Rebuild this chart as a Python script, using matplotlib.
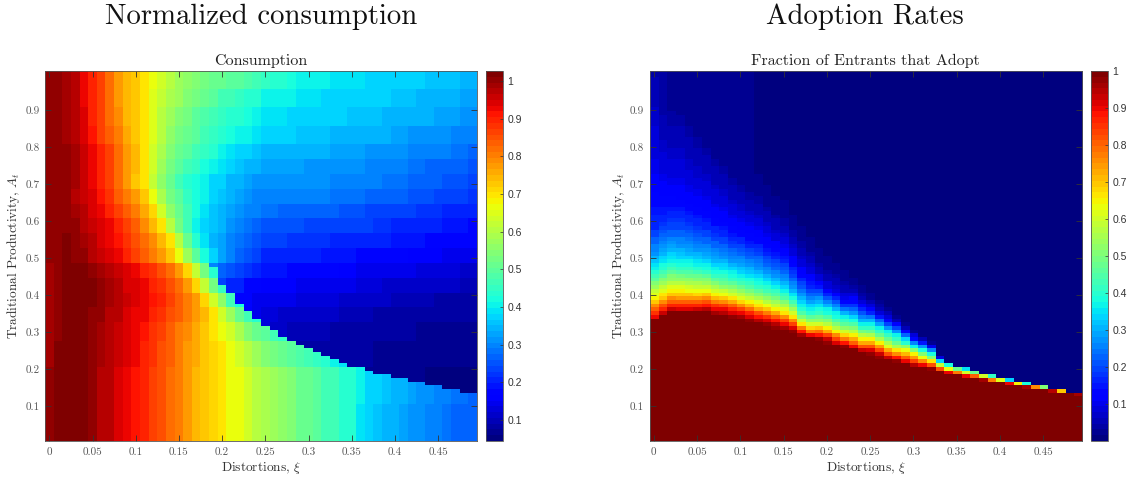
import numpy as np
import matplotlib
matplotlib.use("Agg")
import matplotlib.pyplot as plt

plt.rcParams['font.family'] = ['cmr10', 'DejaVu Serif']
plt.rcParams['mathtext.fontset'] = 'cm'
plt.rcParams['axes.formatter.use_mathtext'] = True

# rows are A = 0.01..1.00, columns are xi = 0.00..0.49, values in percent
xi_ticks = [0, 0.05, 0.1, 0.15, 0.2, 0.25, 0.3, 0.35, 0.4, 0.45]
xi_labels = ['0', '0.05', '0.1', '0.15', '0.2', '0.25', '0.3', '0.35', '0.4', '0.45']
a_ticks = [0.1, 0.2, 0.3, 0.4, 0.5, 0.6, 0.7, 0.8, 0.9]
a_labels = ['0.1', '0.2', '0.3', '0.4', '0.5', '0.6', '0.7', '0.8', '0.9']
cb1_ticks = [0.1, 0.2, 0.3, 0.4, 0.5, 0.6, 0.7, 0.8, 0.9, 1]
cb1_labels = ['0.1', '0.2', '0.3', '0.4', '0.5', '0.6', '0.7', '0.8', '0.9', '1']

# first row above the jump in consumption, per column (48 = no jump)
cons_jump = [48] * 19 + [47, 42, 40, 37, 35, 33, 31, 30, 28, 27, 26, 25, 24, 23, 22, 21, 20, 20,
                         19, 18, 18, 17, 17, 16, 16, 15, 15, 14, 14, 13, 13]

low_edges = [0, 10, 20, 27, 32, 36, 40, 44, 48]
cons_low = [
    [100,102,103,103,103,101,98,97,95,93,91,90,87,85,82,80,77,75,73,71,69,67,66,63,61,59,58,56,54,52,51,49,47,46,44,43,39,37,36,35,34,33,32,31,30,29,28,27,26,26],
    [100,102,103,103,103,101,98,97,95,93,91,90,87,85,82,80,77,75,73,71,69,67,66,63,61,59,58,56,54,52,51,49,47,46,44,43,40,38,37,36,35,34,33,32,31,30,29,28,28,27],
    [99,102,103,103,103,101,99,97,96,94,92,90,88,85,83,81,78,76,73,71,69,66,63,61,58,55,53,51,49,48,46,45,43,41,39,38],
    [99,101,102,103,103,101,99,97,96,94,92,91,88,86,83,81,79,76,73,70,67,63,59,55,52,50,47,45],
    [99,101,102,103,103,101,100,98,97,95,93,92,90,88,85,83,80,77,74,70,64,57,52,47,44],
    [99,101,103,103,103,102,101,99,97,96,95,93,91,89,87,84,81,77,71,63,56,47,42],
    [99,101,103,103,103,102,100,99,97,95,94,92,90,88,85,82,78,71,62,53,45],
    [99,101,103,103,102,101,99,98,96,94,92,90,88,85,82,78,71,62,53,44],
]

# columns 19..49 above the jump, same bands as cons_low from the second on
cons_dark = [
    [30,23,20,18,16,14,13,12,11,10,9,9,9,9,8,8,7,7,6,6,6,6,6,6,6,5,5,5,5,5,5],
    [30,23,20,18,16,14,13,12,11,10,9,9,9,9,8,8,8,8,8,7,7,7,7,7,7,6,6,6,6,6,6],
    [30,23,20,18,16,14,13,12,11,10,10,10,10,10,9,9,9,9,8,8,8,8,8,8,7,7,7,7,7,7,7],
    [30,23,20,18,16,14,13,13,12,12,12,12,11,11,11,10,10,10,10,9,9,9,9,9,9,8,8,8,8,8,8],
    [30,23,20,18,17,15,14,14,14,14,13,13,13,13,13,12,12,11,11,11,11,10,10,10,10,10,9,9,9,9,9],
    [30,23,21,20,18,17,16,16,16,16,15,15,15,15,15,14,14,13,13,13,12,12,12,12,12,11,11,11,11,10,10],
    [30,27,25,24,22,20,19,19,19,18,18,18,17,17,17,16,16,15,15,15,14,14,14,14,13,13,13,13,13,12,12],
]

high_edges = [48, 52, 56, 60, 64, 68, 72, 76, 80, 85, 90, 95, 100]
cons_high = [
    [100,101,102,101,100,98,96,94,92,90,87,84,81,77,72,67,58,50,42,37,33,29,27,25,23,21,21,21,20,20,20,20,19,19,19,19,18,18,18,17,17,17,16,16,16,16,15,15,15,15],
    [100,101,102,101,99,97,95,93,91,88,85,82,79,74,69,60,51,44,39,35,33,30,28,26,25,23,23,23,22,22,22,22,22,21,21,21,21,20,20,20,19,19,19,19,18,18,18,18,17,17],
    [100,101,101,100,98,96,94,92,89,86,83,79,75,70,61,53,47,41,38,36,34,31,30,28,27,25,25,25,25,25,24,24,24,24,24,23,23,23,22,22,21,21,21,20,20,20,19,19,19,18],
    [100,101,100,99,97,95,93,90,87,83,80,76,71,63,56,51,46,42,39,36,35,33,32,30,29,28,28,27,27,27,26,26,26,26,25,25,25,24,24,24,23,23,23,22,22,22,21,21,21,20],
    [101,101,100,98,96,94,91,88,84,80,77,72,66,59,53,49,45,42,40,37,36,35,33,32,30,30,30,30,30,29,29,29,29,28,28,28,28,27,27,27,26,26,25,25,25,24,24,23,23,22],
    [101,101,100,99,96,93,90,86,82,77,73,69,62,56,51,47,44,42,40,38,37,35,34,33,32,32,32,32,32,31,31,31,31,30,30,30,30,29,29,28,28,28,27,27,26,26,25,25,25,24],
    [101,101,100,99,96,93,90,86,82,78,74,70,64,58,53,50,47,45,42,40,39,37,36,35,34,33,33,33,33,33,32,32,32,31,31,31,31,30,30,30,29,29,28,28,27,27,27,26,26,25],
    [101,101,100,99,96,93,90,86,82,78,74,70,64,59,55,51,49,47,45,43,41,39,38,37,36,35,35,35,35,34,34,34,34,33,33,33,33,32,32,32,31,31,30,30,29,29,29,28,28,27],
    [101,100,99,97,94,91,87,83,80,76,72,69,65,60,56,53,51,49,47,45,44,42,41,40,39,37,37,37,37,36,36,36,36,35,35,35,35,34,34,34,33,33,32,32,31,31,31,30,30,29],
    [101,100,99,97,94,90,86,82,79,75,72,69,65,61,58,55,53,50,48,46,45,44,43,42,41,39,39,39,38,38,38,38,37,37,37,36,36,36,36,35,35,35,34,34,34,33,33,33,32,32],
    [101,100,99,97,93,90,86,82,78,75,72,69,65,62,59,57,55,53,51,49,47,46,45,44,43,41,41,40,40,39,39,39,38,38,38,38,37,37,37,37,36,36,36,35,35,35,34,34,33,33],
    [101,100,99,97,93,90,86,82,78,75,72,69,66,63,60,58,56,54,53,52,51,50,49,48,47,45,44,43,42,41,40,40,40,39,39,39,39,38,38,38,37,37,37,37,36,36,36,36,35,35],
]

# adoption: rows under adopt_base are 100, then the list goes upward, last entry held to the top
adopt_base = [33, 34, 35, 35, 35, 35, 35, 34, 34, 33, 33, 32, 32, 31, 30, 30, 29, 28, 28, 27, 26, 26, 25, 25, 24,
              23, 22, 22, 21, 21, 20, 20, 19, 19, 18, 18, 17, 17, 16, 16, 16, 15, 15, 14, 14, 14, 13, 13, 13, 12]
adopt_fronts = [
    [90,85,80,75,69,65,62,58,54,50,46,43,40,37,35,32,30,28,26,25,23,22,20,19,17,17,16,16,15,15,14,14,13,13,12,12,11,11,11,10,10,10,10,9,9,9,9,8,8,8,8,8,7,7,7,7,7,6,6,6,6,5,5,5,5,4,4],
    [93,87,82,76,70,66,62,58,54,50,46,43,40,38,35,33,31,29,27,25,24,22,21,19,18,17,16,15,15,14,13,13,12,12,11,11,10,10,9,9,9,8,8,8,7,7,7,6,6,6,5,5,5,5,4,4,4],
    [93,87,81,75,70,65,61,57,53,50,46,43,40,37,35,33,31,29,27,25,23,22,20,19,18,17,16,15,14,13,13,12,11,11,10,10,9,9,8,8,8,7,7,7,6,6,6,5,5,5,4,4,4,4,3],
    [92,86,80,74,69,65,61,57,53,49,45,42,39,36,34,32,30,28,26,25,23,22,20,19,18,17,16,15,14,13,12,12,11,11,10,10,9,9,8,8,8,7,7,7,6,6,6,5,5,5,4,4,4,3,3,3,3],
    [92,86,80,74,69,64,60,56,52,48,44,41,38,36,33,31,29,27,25,24,22,21,19,18,17,16,15,14,13,12,12,11,10,10,9,9,8,8,7,7,7,6,6,6,5,5,5,4,4,4,3,3,3],
    [93,87,80,74,68,64,59,55,51,47,43,40,37,35,32,30,28,26,24,23,21,20,18,17,16,15,14,13,12,11,11,10,10,9,8,8,7,7,7,6,6,5,5,5,4,4,4,3,3,3],
    [95,88,82,75,69,63,58,54,50,46,42,39,36,34,31,29,27,25,23,22,20,19,17,16,15,14,13,12,11,11,10,9,9,8,8,7,7,6,6,5,5,5,4,4,3,3,3,2],
    [96,90,85,78,71,65,60,55,50,46,42,39,36,34,31,29,27,25,23,22,20,18,17,16,14,13,12,11,11,10,9,9,8,8,7,6,6,5,5,5,4,4,3,3,3,2],
    [95,90,83,76,70,64,58,53,48,44,41,38,35,33,30,28,26,24,22,20,19,17,16,15,13,12,11,11,10,9,8,8,7,7,6,5,5,5,4,4,3,3,3,2,2],
    [97,92,87,80,72,66,60,55,50,46,42,39,36,33,31,28,26,24,22,20,18,17,15,14,13,12,11,10,9,8,8,7,6,6,5,5,4,4,3,3,3,2,2,2],
    [96,90,83,75,68,62,57,52,47,43,40,37,34,32,29,27,25,23,21,19,17,16,14,13,12,11,10,9,8,7,7,6,5,5,4,4,3,3,3,2,2,2],
    [97,92,86,79,71,65,59,54,49,45,41,38,35,32,30,27,25,23,21,19,17,15,14,13,12,11,10,9,8,7,6,6,5,4,4,3,3,3,2,2,2],
    [95,89,82,73,67,61,56,51,46,42,39,36,33,31,28,26,24,22,20,18,16,14,13,12,11,10,9,8,7,6,5,5,4,4,3,3,3,2,2,2,1],
    [97,91,85,77,70,63,57,52,47,43,40,36,33,30,28,26,23,21,19,17,15,14,12,11,10,9,8,7,6,5,5,4,3,3,3,2,2,2,1],
    [98,94,88,80,72,65,59,54,49,44,41,37,34,31,28,26,23,21,19,17,15,13,12,11,9,8,7,6,5,5,4,3,3,2,2,2,1,1],
    [96,90,83,75,67,61,55,50,45,41,37,34,31,28,25,23,21,19,17,15,13,12,10,9,8,7,6,5,4,4,3,3,2,2,2,1,1],
    [97,91,84,75,67,60,54,48,43,38,35,31,28,25,22,20,18,16,14,12,11,9,8,7,6,5,4,4,3,3,2,2,1,1],
    [96,88,78,66,58,51,45,40,36,33,30,27,24,21,19,16,14,12,11,9,8,7,6,5,4,4,3,3,2,2,1,1],
    [90,78,68,60,53,46,40,36,33,29,26,23,20,17,15,13,11,9,8,7,6,5,4,3,3,2,2,1,1],
    [97,89,79,69,60,53,47,42,38,35,31,27,23,19,15,11,9,8,6,5,4,3,3,2,2,1,1],
    [98,93,84,73,65,57,50,44,39,36,31,26,21,16,11,9,8,6,5,4,3,3,2,2,1,1],
    [92,83,75,65,57,50,44,39,36,31,26,21,16,11,9,7,6,5,4,3,2,2,1,1],
    [97,89,78,68,60,52,46,41,36,30,24,18,13,10,8,6,5,4,3,2,2,1,1],
    [90,80,72,65,57,50,44,38,33,28,23,18,14,11,8,6,4,3,2,1,1],
    [93,82,73,65,57,49,42,36,31,26,21,16,11,8,6,4,3,2,1,1],
    [98,92,82,72,65,55,47,41,36,30,24,17,11,8,5,3,2,1,0],
    [98,93,84,74,65,55,47,41,36,29,22,15,9,6,4,2,1,0],
    [93,82,72,62,55,47,41,36,27,20,13,9,6,3,1,0],
    [97,88,76,67,56,48,41,36,28,20,11,6,3,1,0],
    [90,80,71,64,52,40,33,22,11,5,2,0],
    [95,84,74,65,50,36,26,14,8,3,0],
    [90,76,63,50,38,27,15,6,1,0],
    [97,82,66,50,38,25,10,2,0],
    [82,58,33,8,0],
    [90,63,38,0],
    [78,48,0],
    [90,60,35,0],
    [80,48,0],
    [96,60,0],
    [78,42,0],
    [62,0],
    [90,33,0],
    [65,0],
    [96,38,0],
    [75,0],
    [50,0],
    [95,0],
    [70,0],
    [0],
    [96,0],
]


def find_band(edges, r):
    for i in range(len(edges) - 1):
        if edges[i] <= r < edges[i + 1]:
            return i


def build_consumption():
    mat = np.zeros((100, 50))
    for r in range(100):
        for c in range(50):
            if r >= 48:
                mat[r, c] = cons_high[find_band(high_edges, r)][c]
            elif r < cons_jump[c]:
                mat[r, c] = cons_low[find_band(low_edges, r)][c]
            else:
                mat[r, c] = cons_dark[find_band(low_edges, r) - 1][c - 19]
    return mat / 100


def build_adoption():
    mat = np.ones((100, 50))
    for c in range(50):
        front = adopt_fronts[c]
        for r in range(adopt_base[c], 100):
            i = r - adopt_base[c]
            mat[r, c] = front[min(i, len(front) - 1)] / 100
    return mat


def draw_panel(fig, rect, cb_rect, mat, clim, title, xlab, ylab, cb_ticks, cb_labels):
    ax = fig.add_axes(rect)
    im = ax.imshow(mat, origin='lower', aspect='auto', cmap=plt.get_cmap('jet', 64),
                   extent=[-0.005, 0.495, 0.005, 1.005], vmin=clim[0], vmax=clim[1],
                   interpolation='nearest')
    ax.set_xticks(xi_ticks)
    ax.set_xticklabels(xi_labels, fontsize=8, color='#555555')
    ax.set_yticks(a_ticks)
    ax.set_yticklabels(a_labels, fontsize=8, color='#555555')
    ax.tick_params(direction='in', length=4, width=0.6, top=True, right=True, color='#333333')
    ax.tick_params(axis='x', pad=5)
    ax.tick_params(axis='y', pad=4)
    ax.set_title(title, fontsize=11.5, color='#222222', pad=4)
    ax.set_xlabel(xlab, fontsize=9.6, color='#333333', labelpad=1.5)
    ax.set_ylabel(ylab, fontsize=9.6, color='#333333', labelpad=2)
    for s in ax.spines.values():
        s.set_linewidth(0.6)
        s.set_color('#555555')

    cax = fig.add_axes(cb_rect)
    cb = fig.colorbar(im, cax=cax)
    cb.set_ticks(cb_ticks)
    cb.set_ticklabels(cb_labels, fontsize=7.5, color='#333333', family='Liberation Sans')
    cb.ax.tick_params(direction='in', length=2, width=0.5, color='#333333', pad=3)
    cb.outline.set_linewidth(0.6)
    cb.outline.set_edgecolor('#555555')


def main():
    W, H = 1131, 479
    fig = plt.figure(figsize=(W / 100, H / 100), dpi=100)

    def r(x0, y0, x1, y1):
        return [x0 / W, 1 - y1 / H, (x1 - x0) / W, (y1 - y0) / H]

    draw_panel(fig, r(45, 71, 477, 441), r(486, 71, 503, 441), build_consumption(), (0.044, 1.027),
               'Consumption', r'Distortions, $\xi$', r'Traditional Productivity, $A_t$',
               cb1_ticks, cb1_labels)
    draw_panel(fig, r(649.5, 71, 1082, 441), r(1091, 71, 1108, 441), build_adoption(), (0.0, 1.0),
               'Fraction of Entrants that Adopt', r'Distortions, $\xi$', r'Traditional Productivity, $A_t$',
               cb1_ticks, cb1_labels)

    fig.text(261 / W, 1 - 17 / H, 'Normalized consumption', fontsize=20.7, ha='center', va='center', color='#111111')
    fig.text(865 / W, 1 - 17 / H, 'Adoption Rates', fontsize=20.7, ha='center', va='center', color='#111111')

    fig.savefig('out.png', dpi=100)


if __name__ == "__main__":
    main()
